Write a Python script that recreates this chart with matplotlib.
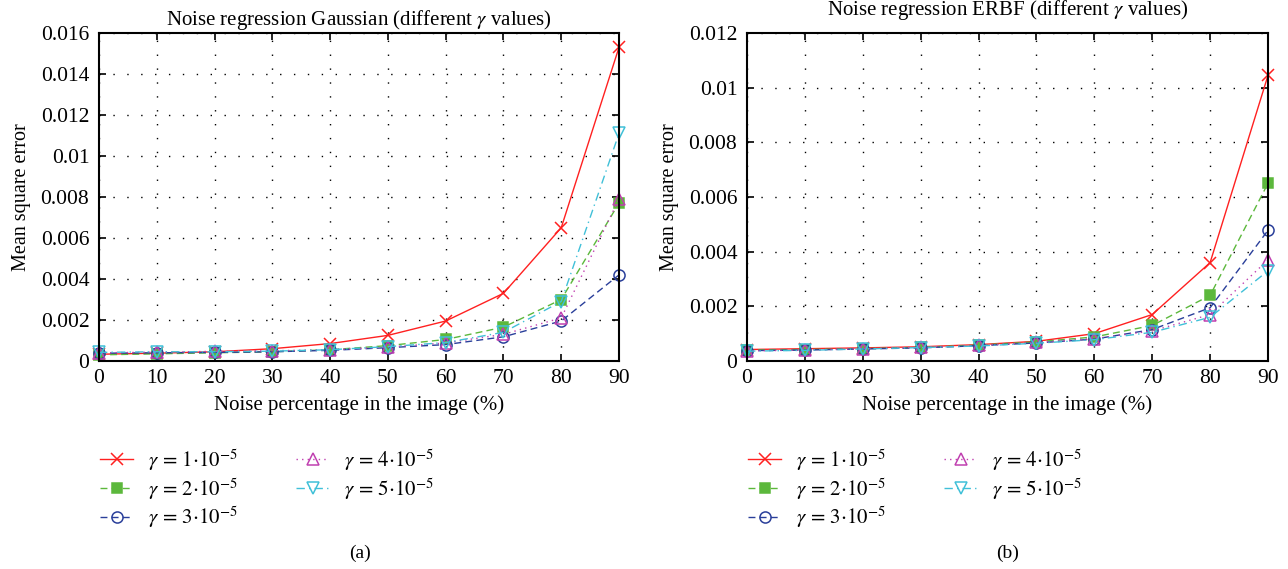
import numpy as np
import matplotlib
matplotlib.use('Agg')
import matplotlib.pyplot as plt

plt.rcParams['font.family'] = ['Liberation Serif', 'DejaVu Serif']
plt.rcParams['mathtext.fontset'] = 'stix'

# Data
noise = [0, 10, 20, 30, 40, 50, 60, 70, 80, 90]
labels = [r'$\gamma\,=\,1{\cdot}10^{-5}$', r'$\gamma\,=\,2{\cdot}10^{-5}$', r'$\gamma\,=\,3{\cdot}10^{-5}$',
          r'$\gamma\,=\,4{\cdot}10^{-5}$', r'$\gamma\,=\,5{\cdot}10^{-5}$']

gauss_g1 = [0.00033, 0.00038, 0.00045, 0.0006, 0.00085, 0.00125, 0.00195, 0.0033, 0.0065, 0.0153]
gauss_g2 = [0.0003, 0.00035, 0.0004, 0.00045, 0.00055, 0.00075, 0.00105, 0.00165, 0.003, 0.0077]
gauss_g3 = [0.00038, 0.0004, 0.00042, 0.00045, 0.00052, 0.00065, 0.0008, 0.00118, 0.00195, 0.0042]
gauss_g4 = [0.0004, 0.00043, 0.00047, 0.0005, 0.00055, 0.00068, 0.00088, 0.0013, 0.0021, 0.0079]
gauss_g5 = [0.00042, 0.00045, 0.00045, 0.00048, 0.00055, 0.0007, 0.0009, 0.0014, 0.0029, 0.0111]

erbf_g1 = [0.00042, 0.00045, 0.00048, 0.00052, 0.0006, 0.00072, 0.001, 0.0017, 0.0036, 0.01045]
erbf_g2 = [0.0004, 0.00042, 0.00045, 0.0005, 0.00058, 0.0007, 0.00088, 0.0013, 0.0024, 0.0065]
erbf_g3 = [0.00038, 0.0004, 0.00044, 0.00048, 0.00056, 0.00066, 0.0008, 0.00115, 0.00195, 0.00478]
erbf_g4 = [0.00037, 0.0004, 0.00045, 0.0005, 0.00057, 0.00068, 0.00082, 0.0011, 0.0017, 0.0037]
erbf_g5 = [0.00036, 0.00039, 0.00044, 0.00049, 0.00055, 0.00065, 0.00078, 0.00105, 0.0016, 0.0033]

gauss_yticks = [0, 0.002, 0.004, 0.006, 0.008, 0.01, 0.012, 0.014, 0.016]
gauss_yticklabels = ['0', '0.002', '0.004', '0.006', '0.008', '0.01', '0.012', '0.014', '0.016']
erbf_yticks = [0, 0.002, 0.004, 0.006, 0.008, 0.01, 0.012]
erbf_yticklabels = ['0', '0.002', '0.004', '0.006', '0.008', '0.01', '0.012']

styles = [
    dict(color='#ff2020', linestyle='-', marker='x', markersize=9, markerfacecolor='none'),
    dict(color='#5cb83c', linestyle=(0, (5, 3)), marker='s', markersize=7, markerfacecolor='#5cb83c'),
    dict(color='#2a3f9a', linestyle=(0, (5, 3)), marker='o', markersize=8, markerfacecolor='none'),
    dict(color='#c040b0', linestyle=(0, (1, 3)), marker='^', markersize=8, markerfacecolor='none'),
    dict(color='#40c0d8', linestyle=(0, (6, 3, 1, 3)), marker='v', markersize=8, markerfacecolor='none'),
]


def draw_panel(fig, ax, series, title, title_pad, yticks, yticklabels, leg_anchor):
    for ys, st, lab in zip(series, styles, labels):
        ax.plot(noise, ys, linewidth=1.0, markeredgewidth=1.1, label=lab, clip_on=False, **st)
    ax.set_xlim(0, 90)
    ax.set_ylim(yticks[0], yticks[-1])
    ax.set_xticks(noise)
    ax.set_yticks(yticks)
    ax.set_yticklabels(yticklabels)
    ax.tick_params(axis='both', direction='in', top=True, right=True, labelsize=15.5, length=5, width=1.2)
    ax.tick_params(axis='y', pad=7)
    ax.tick_params(axis='x', pad=6)
    ax.grid(True, color='black', linestyle=(0, (1, 9)), linewidth=1.0)
    for sp in ax.spines.values():
        sp.set_linewidth(1.5)
    ax.set_title(title, fontsize=15, pad=title_pad)
    ax.set_xlabel('Noise percentage in the image (%)', fontsize=15, labelpad=5)
    ax.set_ylabel('Mean square error', fontsize=14.5, labelpad=7)
    fig.legend(handles=ax.get_lines(), ncol=2, loc='upper left', bbox_to_anchor=leg_anchor,
               frameon=False, fontsize=15, handlelength=1.6, columnspacing=2.8, labelspacing=0.15,
               handletextpad=0.7, borderpad=0, borderaxespad=0)


fig = plt.figure(figsize=(12.88, 5.69), dpi=100)
ax1 = fig.add_axes([0.07686, 0.36555, 0.40373, 0.57645])
ax2 = fig.add_axes([0.57997, 0.36555, 0.40450, 0.57645])

draw_panel(fig, ax1, [gauss_g1, gauss_g2, gauss_g3, gauss_g4, gauss_g5],
           r'Noise regression Gaussian (different $\gamma$ values)', 6,
           gauss_yticks, gauss_yticklabels, (0.0776, 1 - 447 / 569))
draw_panel(fig, ax2, [erbf_g1, erbf_g2, erbf_g3, erbf_g4, erbf_g5],
           r'Noise regression ERBF (different $\gamma$ values)', 13,
           erbf_yticks, erbf_yticklabels, (0.5807, 1 - 447 / 569))

fig.text(360 / 1288, 1 - 553 / 569, '(a)', ha='center', va='center', fontsize=14)
fig.text(1008 / 1288, 1 - 553 / 569, '(b)', ha='center', va='center', fontsize=14)

fig.savefig('out.png', dpi=100)
